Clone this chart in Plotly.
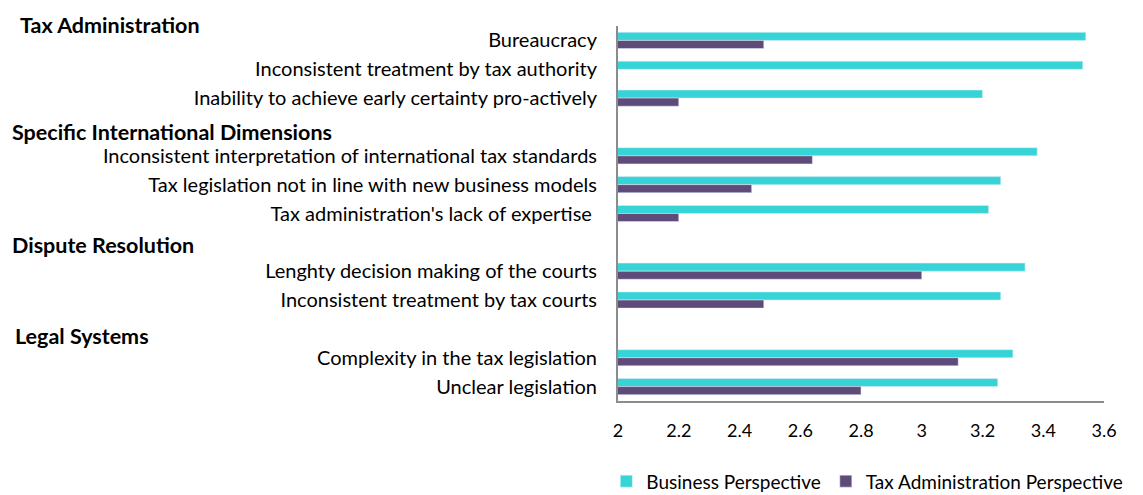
import plotly.graph_objects as go

categories = [
    "Bureaucracy",
    "Inconsistent treatment by tax authority",
    "Inability to achieve early certainty pro-actively",
    " ",
    "Inconsistent interpretation of international tax standards",
    "Tax legislation not in line with new business models",
    "Tax administration's lack of expertise ",
    "  ",
    "Lenghty decision making of the courts",
    "Inconsistent treatment by tax courts",
    "   ",
    "Complexity in the tax legislation",
    "Unclear legislation",
]
business = [3.54, 3.53, 3.20, None, 3.38, 3.26, 3.22, None, 3.34, 3.26, None, 3.30, 3.25]
tax_admin = [2.48, None, 2.20, None, 2.64, 2.44, 2.20, None, 3.00, 2.48, None, 3.12, 2.80]

groups = ["Tax Administration", "Specific International Dimensions", "Dispute Resolution", "Legal Systems"]
group_anchor = ["Bureaucracy", " ", "  ", "   "]
group_shift = [15, -5, -3, -7]
group_x = [10, 2, 2, 5]  # left edge in figure pixels

tick_vals = [2, 2.2, 2.4, 2.6, 2.8, 3, 3.2, 3.4, 3.6]
tick_text = ["2", "2.2", "2.4", "2.6", "2.8", "3", "3.2", "3.4", "3.6"]

CYAN = "#36D4D6"
PURPLE = "#5E4B7A"
FONT = "Lato"

# page body adds an 8px margin, so the figure is sized to fit the window
W, H = 1135, 487
ML, MR, MT, MB = 610, 39, 17.5, 93.5
PW = W - ML - MR
PH = H - MT - MB

fig = go.Figure()
fig.add_trace(go.Bar(y=categories, x=business, orientation="h",
                     name="Business Perspective", marker_color=CYAN))
fig.add_trace(go.Bar(y=categories, x=tax_admin, orientation="h",
                     name="Tax Administration Perspective", marker_color=PURPLE))

for g, a, s, gx in zip(groups, group_anchor, group_shift, group_x):
    fig.add_annotation(text="<b>" + g + "</b>", x=(gx - ML) / PW, xref="paper", y=a, yref="y",
                       yshift=s, xanchor="left", yanchor="middle", showarrow=False,
                       font=dict(family=FONT, size=21.5, color="#000000"))

fig.update_layout(
    width=W, height=H,
    margin=dict(l=ML, r=MR, t=MT, b=MB, autoexpand=False),
    paper_bgcolor="white", plot_bgcolor="white",
    barmode="group", bargap=0.44, bargroupgap=0,
    font=dict(family=FONT, size=20, color="#000000"),
    legend=dict(orientation="h", x=-0.024, xanchor="left",
                y=(H - MB - 474) / PH, yanchor="middle",
                font=dict(family=FONT, size=19), itemwidth=30, traceorder="normal"),
    xaxis=dict(range=[2, 3.6], tickvals=tick_vals, ticktext=tick_text, showgrid=False,
               zeroline=False, showline=True, linecolor="#8c8c8c", linewidth=2,
               ticks="", ticklabelstandoff=12, automargin=False,
               tickfont=dict(family=FONT, size=18)),
    yaxis=dict(categoryorder="array", categoryarray=categories, autorange="reversed",
               showgrid=False, zeroline=False, showline=True, linecolor="#8c8c8c", linewidth=2,
               ticks="", ticklabelstandoff=15, automargin=False,
               tickfont=dict(family=FONT, size=20)),
)

fig.write_html("out.html")
